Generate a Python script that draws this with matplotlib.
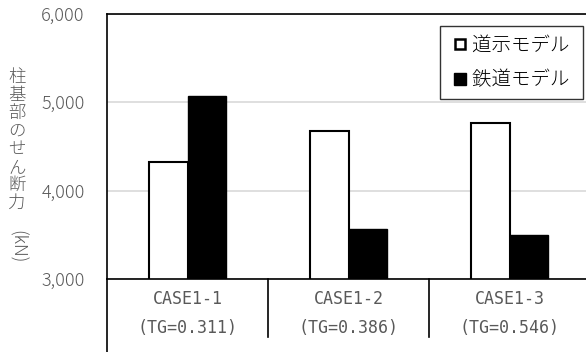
import numpy as np
import matplotlib.pyplot as plt
from matplotlib.lines import Line2D

plt.rcParams['font.family'] = ['Noto Sans CJK JP', 'DejaVu Sans']

cases = ['CASE1-1', 'CASE1-2', 'CASE1-3']
tg = ['(TG=0.311)', '(TG=0.386)', '(TG=0.546)']
doji = [4330, 4670, 4770]
tetsudo = [5070, 3565, 3500]
series_names = ['道示モデル', '鉄道モデル']
ylabel_chars = list('柱基部のせん断力')

gray = '#595959'
W, H = 586, 352
fig = plt.figure(figsize=(W / 100, H / 100), dpi=100)
ax = fig.add_axes([107 / W, 1 - 279 / H, (590 - 107) / W, (279 - 14) / H])

x = np.arange(len(cases))
bw = 0.24
ax.bar(x - bw / 2, doji, bw, color='white', edgecolor='black', linewidth=1.5, zorder=3)
ax.bar(x + bw / 2, tetsudo, bw, color='black', edgecolor='black', linewidth=1.0, zorder=3)

ax.set_xlim(-0.5, 2.5)
ax.set_ylim(3000, 6000)
ax.set_yticks([3000, 4000, 5000, 6000])
ax.set_yticklabels(['{:,}'.format(v) for v in [3000, 4000, 5000, 6000]], fontsize=13,
                   color=gray, fontweight='light')
ax.tick_params(axis='y', length=0, pad=16)
ax.set_xticks([])
ax.grid(axis='y', color='#d9d9d9', linewidth=1.2, zorder=0)
for s in ['left', 'top', 'bottom']:
    ax.spines[s].set_color('black')
    ax.spines[s].set_linewidth(1.2)
ax.spines['right'].set_visible(False)
ax.spines['bottom'].set_zorder(4)

# extended category frame lines below the axis
ax.add_line(Line2D([0, 0], [0, -0.28], transform=ax.transAxes, color='black', lw=1.2, clip_on=False))
for d in [0.5, 1.5]:
    ax.plot([d, d], [0, -0.219], transform=ax.get_xaxis_transform(), color='black', lw=1.2, clip_on=False)

for i in range(len(cases)):
    ax.text(x[i], -0.075, cases[i], transform=ax.get_xaxis_transform(), ha='center', va='center',
            fontsize=12, color=gray, family='DejaVu Sans Mono')
    ax.text(x[i], -0.185, tg[i], transform=ax.get_xaxis_transform(), ha='center', va='center',
            fontsize=12, color=gray, family='DejaVu Sans Mono')

# stacked vertical y label
for k, ch in enumerate(ylabel_chars):
    fig.text(17 / W, 1 - (77 + 18 * k) / H, ch, ha='center', va='center', fontsize=12.5,
             color=gray, fontweight='light')
fig.text(17 / W, 1 - 247 / H, '(kN)', ha='center', va='center', rotation=270, fontsize=13,
         color=gray, fontweight='light')

handles = [Line2D([], [], marker='s', ls='none', markersize=7, markerfacecolor='white',
                  markeredgecolor='black', markeredgewidth=1.8),
           Line2D([], [], marker='s', ls='none', markersize=8.5, markerfacecolor='black',
                  markeredgecolor='black')]
leg = fig.legend(handles, [n + ' ' for n in series_names], loc='upper right',
                 bbox_to_anchor=(583 / W, 1 - 26 / H), frameon=True, fancybox=False,
                 edgecolor='black', handlelength=1.1, handletextpad=0.1, borderpad=0.45,
                 labelspacing=0.7, borderaxespad=0, prop={'weight': 'light', 'size': 14})
leg.get_frame().set_linewidth(1.0)

fig.savefig('out.png', dpi=100)
